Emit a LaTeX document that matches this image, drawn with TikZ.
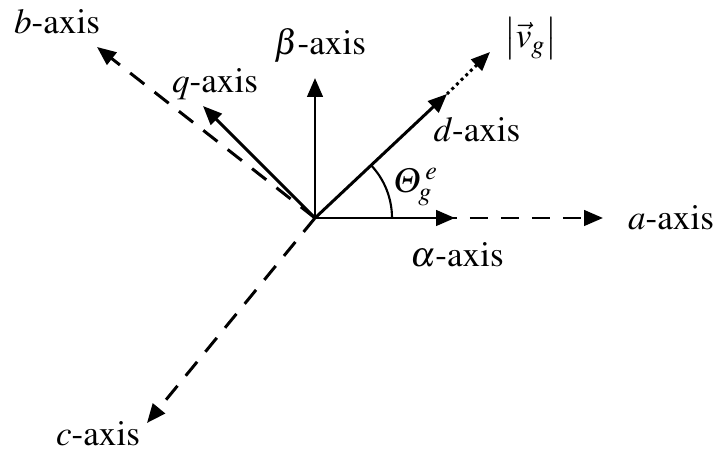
\documentclass[tikz,border=0pt]{standalone}
\usepackage{amsmath}
\usepackage[T1]{fontenc}
\usepackage{mathptmx}
\usetikzlibrary{arrows.meta,calc}

\begin{document}
\begin{tikzpicture}[x=0.02cm,y=-0.02cm,
  vec/.style={line width=1.7pt,-{Triangle[length=0.38cm,width=0.31cm]}},
  dashvec/.style={vec,dash pattern=on 0.36cm off 0.26cm},
  lbl/.style={font=\fontsize{20}{24}\selectfont,inner sep=1pt}]
\useasboundingbox (0,0) rectangle (714,452);
% origin and ends of the axes
\coordinate (O) at (315,218);
\coordinate (atip) at (603,218);
\coordinate (alphatip) at (455,218);
\coordinate (betatip) at (315,78);
\coordinate (dtip) at (447,94);
\coordinate (vtip) at (490,52);
\coordinate (qtip) at (203,106);
\coordinate (btip) at (97,47);
\coordinate (ctip) at (147,423);
% abc frame (dashed)
\draw[dashvec] (O) -- (atip);
\draw[dashvec] (O) -- (btip);
\draw[dashvec] (O) -- (ctip);
% alpha-beta and d-q frames
\draw[vec] (O) -- (alphatip);
\draw[vec] (O) -- (betatip);
\draw[vec] (O) -- (dtip);
\draw[vec] (O) -- (qtip);
\draw[vec,dash pattern=on 1.7pt off 2pt] (dtip) -- (vtip);
% angle
\draw[line width=1.2pt] ($(O)+(77,0)$) arc[start angle=0,end angle=-43,radius=77];
% labels
\node[lbl,anchor=west] (alab) at (626,218) {\textit{a}-axis};
\node[lbl] (alphalab) at (457,255) {$\alpha$-axis};
\node[lbl] (betalab) at (320,45) {$\beta$-axis};
\node[lbl] (dlab) at (477,130) {\textit{d}-axis};
\node[lbl,anchor=west] (vlab) at (502,39) {$\bigl|\vec{v}_{g}\bigr|$};
\node[lbl] (thetalab) at (416,187) {$\varTheta_{g}^{\,e}$};
\node[lbl] (qlab) at (215,84) {\textit{q}-axis};
\node[lbl] (blab) at (57,22) {\textit{b}-axis};
\node[lbl] (clab) at (98,434) {\textit{c}-axis};
\end{tikzpicture}
\end{document}
